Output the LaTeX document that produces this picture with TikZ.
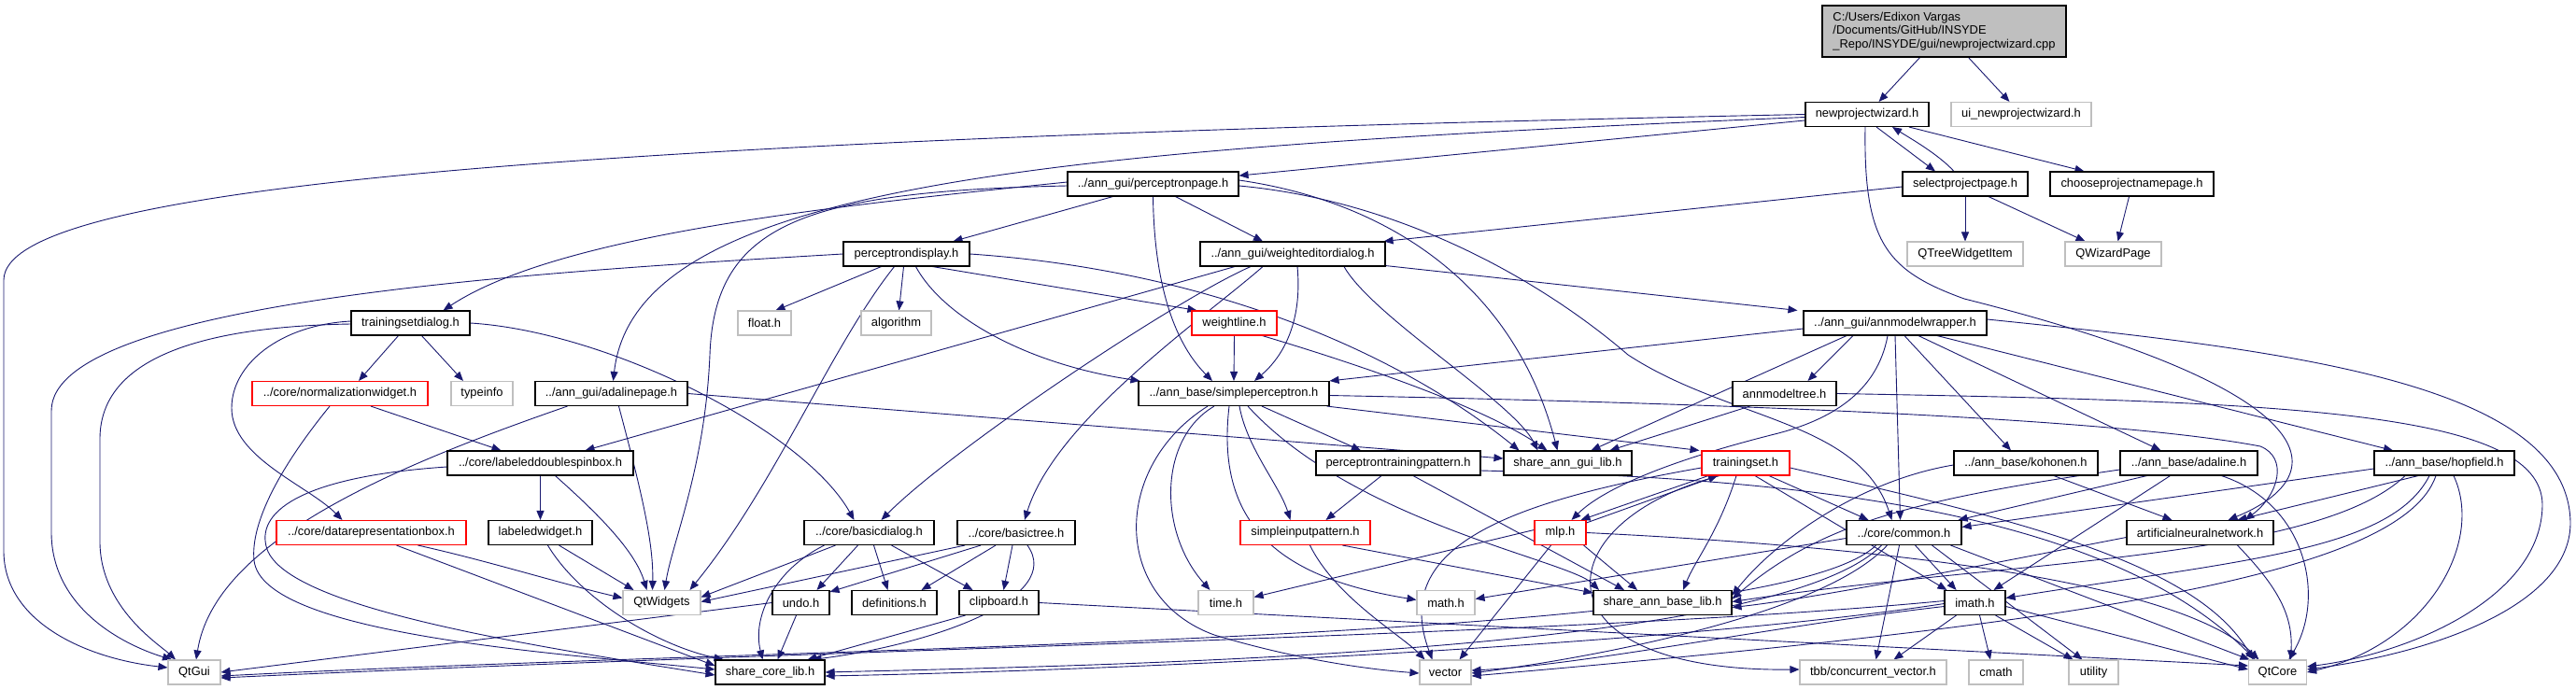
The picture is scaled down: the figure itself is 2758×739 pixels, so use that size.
\documentclass[tikz,border=0pt]{standalone}
\usepackage{fontspec}
\setmainfont{Liberation Sans}
\usetikzlibrary{arrows.meta,backgrounds}
\definecolor{edgec}{HTML}{191970}
\definecolor{graybd}{HTML}{BFBFBF}
\definecolor{redbd}{HTML}{FF0000}
\definecolor{topfill}{HTML}{BFBFBF}
\newcommand{\dxf}{\fontsize{12.9}{14.7}\selectfont}
\tikzset{
  nb/.style={draw=black, line width=1.1pt, fill=white, minimum height=26pt, inner sep=0pt, font=\dxf, text=black},
  gb/.style={nb, draw=graybd},
  rb/.style={nb, draw=redbd},
  e/.style={draw=edgec, line width=0.9pt, -{Triangle[length=10pt,width=8pt]}}
}
\begin{document}
\begin{tikzpicture}[x=1pt,y=-1pt]
\useasboundingbox (0,0) rectangle (2758,739);
% row 0
\node[nb, fill=topfill, minimum width=261pt, minimum height=55pt, align=left] (top) at (2081.5,33.5) {C:/Users/Edixon Vargas\\/Documents/GitHub/INSYDE\\\_Repo/INSYDE/gui/newprojectwizard.cpp};
% row 1
\node[nb, minimum width=132pt] (npw) at (1999,122.5) {newprojectwizard.h};
\node[gb, minimum width=150pt] (ui) at (2164,122.5) {ui\_newprojectwizard.h};
% row 2
\node[nb, minimum width=183pt] (pp) at (1234.5,197) {../ann\_gui/perceptronpage.h};
\node[nb, minimum width=134pt] (spp) at (2104,197) {selectprojectpage.h};
\node[nb, minimum width=175pt] (cpn) at (2282.5,197) {chooseprojectnamepage.h};
% row 3
\node[nb, minimum width=135pt] (pd) at (970.5,272) {perceptrondisplay.h};
\node[nb, minimum width=198pt] (wed) at (1384,272) {../ann\_gui/weighteditordialog.h};
\node[gb, minimum width=124pt] (qtw) at (2104,272) {QTreeWidgetItem};
\node[gb, minimum width=103pt] (qwp) at (2262.5,272) {QWizardPage};
% row 4
\node[nb, minimum width=127pt] (tsd) at (439.5,346) {trainingsetdialog.h};
\node[gb, minimum width=57pt] (fl) at (818.5,346) {float.h};
\node[gb, minimum width=75pt] (alg) at (959.5,346) {algorithm};
\node[rb, minimum width=91pt] (wl) at (1321.5,346) {weightline.h};
\node[nb, minimum width=196pt] (amw) at (2029,346) {../ann\_gui/annmodelwrapper.h};
% row 5
\node[rb, minimum width=188pt] (nw) at (364,421.5) {../core/normalizationwidget.h};
\node[gb, minimum width=66pt] (ti) at (516,421.5) {typeinfo};
\node[nb, minimum width=163pt] (ap) at (654.5,421.5) {../ann\_gui/adalinepage.h};
\node[nb, minimum width=204pt] (sp) at (1321,421.5) {../ann\_base/simpleperceptron.h};
\node[nb, minimum width=111pt] (amt) at (1910.5,421.5) {annmodeltree.h};
% row 6
\node[nb, minimum width=199pt] (ldsb) at (578.5,496) {../core/labeleddoublespinbox.h};
\node[nb, minimum width=176pt] (ptp) at (1497,496) {perceptrontrainingpattern.h};
\node[nb, minimum width=137pt] (sagl) at (1678.5,496) {share\_ann\_gui\_lib.h};
\node[rb, minimum width=94pt] (ts) at (1869,496) {trainingset.h};
\node[nb, minimum width=154pt] (koh) at (2169,496) {../ann\_base/kohonen.h};
\node[nb, minimum width=147pt] (ada) at (2343.5,496) {../ann\_base/adaline.h};
\node[nb, minimum width=150pt] (hop) at (2617,496) {../ann\_base/hopfield.h};
% row 7
\node[rb, minimum width=203pt] (drb) at (397.5,570.5) {../core/datarepresentationbox.h};
\node[nb, minimum width=111pt] (lw) at (578.5,570.5) {labeledwidget.h};
\node[nb, minimum width=139pt] (bd) at (930.5,570.5) {../core/basicdialog.h};
\node[nb, minimum width=126pt] (bt) at (1088,570.5) {../core/basictree.h};
\node[rb, minimum width=139pt] (sip) at (1397.5,570.5) {simpleinputpattern.h};
\node[rb, minimum width=55pt] (mlp) at (1670.5,570.5) {mlp.h};
\node[nb, minimum width=123pt] (com) at (2038.5,570.5) {../core/common.h};
\node[nb, minimum width=157pt] (ann) at (2355.5,570.5) {artificialneuralnetwork.h};
% row 8
\node[gb, minimum width=83pt] (qwid) at (708.5,645.5) {QtWidgets};
\node[nb, minimum width=61pt] (undo) at (857.5,645.5) {undo.h};
\node[nb, minimum width=91pt] (def) at (957.5,645.5) {definitions.h};
\node[nb, minimum width=85pt] (clip) at (1069.5,645.5) {clipboard.h};
\node[gb, minimum width=59pt] (time) at (1312.5,645.5) {time.h};
\node[gb, minimum width=62pt] (math) at (1548,645.5) {math.h};
\node[nb, minimum width=148pt] (sabl) at (1780,645.5) {share\_ann\_base\_lib.h};
\node[nb, minimum width=65pt] (imath) at (2114.5,645.5) {imath.h};
% row 9
\node[gb, minimum width=56pt] (qtgui) at (208,720) {QtGui};
\node[nb, minimum width=117pt] (scl) at (824.5,720) {share\_core\_lib.h};
\node[gb, minimum width=55pt] (vec) at (1547.5,720) {vector};
\node[gb, minimum width=157pt] (tbb) at (2005.5,720) {tbb/concurrent\_vector.h};
\node[gb, minimum width=58pt] (cmath) at (2137,720) {cmath};
\node[gb, minimum width=53pt] (util) at (2241.5,720) {utility};
\node[gb, minimum width=62pt] (qtcore) at (2438.5,720) {QtCore};

\begin{scope}[on background layer]
\fill[white] (0,0) rectangle (2758,739);
% top
\draw[e] (top) -- (npw);
\draw[e] (top) -- (ui);
% newprojectwizard
\draw[e] (npw.west) .. controls (600,150) and (4,200) .. (4,300) -- (4,590) .. controls (4,665) and (90,705) .. ([yshift=5pt]qtgui.west);
\draw[e] (npw) -- (pp);
\draw[e] ([yshift=-3pt]npw.west) .. controls (1100,160) and (680,200) .. ([xshift=2pt]ap.north);
\draw[e] ([xshift=10pt]npw.south) -- ([xshift=-32pt]spp.north);
\draw[e] ([xshift=-12pt]spp.north) .. controls (2075,165) and (2045,148) .. ([xshift=27pt]npw.south);
\draw[e] ([xshift=45pt]npw.south) -- ([xshift=-51pt]cpn.north);
\draw[e] ([xshift=-2pt]npw.south) .. controls (1995,260) and (2020,290) .. (2103,320) .. controls (2500,420) and (2500,510) .. ([xshift=30pt]ann.north);
% selectprojectpage / chooseprojectnamepage
\draw[e] ([yshift=-3pt]spp.west) -- ([xshift=-2pt]wed.north east);
\draw[e] (spp.south) -- (qtw.north);
\draw[e] ([xshift=25pt]spp.south) -- ([xshift=-30pt]qwp.north);
\draw[e] ([xshift=-3pt]cpn.south) -- ([xshift=5pt]qwp.north);
% perceptronpage
\draw[e] ([xshift=-43pt]pp.south) -- ([xshift=50pt]pd.north);
\draw[e] ([xshift=24pt]pp.south) -- ([xshift=-32pt]wed.north);
\draw[e] ([yshift=2pt]pp.west) .. controls (900,220) and (600,250) .. ([xshift=35pt]tsd.north);
\draw[e] ([yshift=-2pt]pp.west) .. controls (860,205) and (765,240) .. (760,380) .. controls (755,500) and (720,580) .. ([xshift=3pt]qwid.north);
\draw[e] (pp.south) .. controls (1236,330) and (1270,380) .. ([xshift=-23pt]sp.north);
\draw[e] ([yshift=4pt]pp.east) .. controls (1480,215) and (1620,300) .. ([xshift=-11pt]sagl.north);
\draw[e] ([yshift=-2pt]pp.east) .. controls (1500,215) and (1650,300) .. (1743,380) .. controls (1850,450) and (1990,450) .. ([xshift=-13pt]com.north);
% perceptrondisplay
\draw[e] ([xshift=-27pt]pd.south) -- ([xshift=12pt]fl.north);
\draw[e] ([xshift=-3pt]pd.south) -- ([xshift=3pt]alg.north);
\draw[e] ([xshift=28pt]pd.south) -- ([xshift=-40pt]wl.north);
\draw[e] (pd.west) .. controls (600,290) and (55,320) .. (55,440) -- (55,570) .. controls (55,650) and (130,690) .. ([xshift=-24pt]qtgui.north);
\draw[e] ([xshift=-13pt]pd.south) .. controls (890,370) and (830,520) .. ([xshift=30pt]qwid.north);
\draw[e] ([xshift=10pt]pd.south) .. controls (1010,340) and (1100,390) .. ([xshift=2pt]sp.north west);
\draw[e] (pd.east) .. controls (1300,290) and (1500,380) .. ([xshift=-52pt]sagl.north);
% weighteditordialog
\draw[e] ([xshift=-62pt]wed.south) -- ([xshift=48pt]ldsb.north);
\draw[e] ([xshift=-45pt]wed.south) .. controls (1260,320) and (1020,480) .. ([xshift=13pt]bd.north);
\draw[e] ([xshift=-32pt]wed.south) .. controls (1290,340) and (1130,450) .. ([xshift=9pt]bt.north);
\draw[e] ([xshift=5pt]wed.south) .. controls (1395,350) and (1370,385) .. ([xshift=22pt]sp.north);
\draw[e] ([yshift=1pt]wed.south east) -- ([xshift=-6pt]amw.north west);
\draw[e] ([xshift=55pt]wed.south) .. controls (1470,340) and (1620,430) .. ([xshift=-32pt]sagl.north);
% trainingsetdialog
\draw[e] ([xshift=-13pt]tsd.south) -- ([xshift=20pt]nw.north);
\draw[e] ([xshift=12pt]tsd.south) -- ([xshift=-20pt]ti.north);
\draw[e] ([yshift=2pt]tsd.west) .. controls (300,348) and (248,390) .. (248,437) .. controls (248,490) and (330,520) .. ([xshift=-31pt]drb.north);
\draw[e] ([yshift=-1pt]tsd.west) .. controls (200,350) and (107,390) .. (107,470) -- (107,580) .. controls (107,650) and (170,690) .. ([xshift=-20pt]qtgui.north);
\draw[e] (tsd.east) .. controls (650,355) and (860,460) .. ([xshift=-16pt]bd.north);
% normalizationwidget, adalinepage
\draw[e] ([xshift=33pt]nw.south) -- ([xshift=-42pt]ldsb.north);
\draw[e] ([xshift=-11pt]nw.south) .. controls (300,500) and (268,560) .. (272,600) .. controls (280,680) and (600,700) .. ([yshift=3pt]scl.west);
\draw[e] ([xshift=-47pt]ap.south) .. controls (420,500) and (230,580) .. ([xshift=2pt]qtgui.north);
\draw[e] ([xshift=8pt]ap.south) .. controls (685,520) and (700,580) .. ([xshift=-10pt]qwid.north);
\draw[e] (ap.east) -- ([yshift=5pt]sagl.west);
% labeleddoublespinbox, datarepresentationbox, labeledwidget
\draw[e] (ldsb.south) -- (lw.north);
\draw[e] ([xshift=16pt]ldsb.south) .. controls (640,550) and (680,590) .. ([xshift=-16pt]qwid.north);
\draw[e] ([yshift=-4pt]ldsb.west) .. controls (330,510) and (275,545) .. (285,585) .. controls (300,650) and (560,690) .. ([yshift=-3pt]scl.west);
\draw[e] ([xshift=50pt]drb.south) .. controls (520,600) and (600,625) .. ([yshift=5pt]qwid.west);
\draw[e] ([xshift=27pt]drb.south) -- ([yshift=7pt]scl.west);
\draw[e] ([xshift=20pt]lw.south) -- ([xshift=-30pt]qwid.north);
\draw[e] ([xshift=8pt]lw.south) .. controls (620,640) and (700,690) .. ([xshift=-50pt]scl.north);
% basicdialog, basictree
\draw[e] ([xshift=-36pt]bd.south) -- ([yshift=6pt]qwid.east);
\draw[e] ([xshift=-12pt]bd.south) -- ([xshift=17pt]undo.north);
\draw[e] ([xshift=5pt]bd.south) -- ([xshift=-7pt]def.north);
\draw[e] ([xshift=24pt]bd.south) -- ([xshift=-28pt]clip.north);
\draw[e] ([xshift=-48pt]bd.south) .. controls (830,610) and (805,660) .. ([xshift=-8pt]scl.north);
\draw[e] ([xshift=-55pt]bt.south) -- ([yshift=1pt]qwid.east);
\draw[e] ([xshift=-38pt]bt.south) -- ([yshift=-2pt]undo.north east);
\draw[e] ([xshift=-22pt]bt.south) -- ([xshift=29pt]def.north);
\draw[e] ([xshift=-4pt]bt.south) -- ([xshift=5pt]clip.north);
\draw[e] ([xshift=12pt]bt.south) .. controls (1140,640) and (1000,690) .. ([xshift=45pt]scl.north);
% undo, clipboard
\draw[e] (undo.west) -- (qtgui.east);
\draw[e] ([xshift=-5pt]undo.south) -- ([xshift=8pt]scl.north);
\draw[e] ([xshift=-36pt]clip.south) -- ([xshift=40pt]scl.north);
\draw[e] (clip.east) -- ([yshift=7pt]qtcore.west);
% weightline
\draw[e] (wl.south) -- (sp.north);
\draw[e] ([xshift=30pt]wl.south) .. controls (1420,380) and (1580,430) .. ([xshift=-22pt]sagl.north);
% simpleperceptron
\draw[e] ([xshift=30pt]sp.south) -- ([xshift=-40pt]ptp.north);
\draw[e] ([xshift=6pt]sp.south) .. controls (1335,480) and (1370,520) .. ([xshift=-16pt]sip.north);
\draw[e] ([xshift=-21pt]sp.south) .. controls (1240,470) and (1240,570) .. ([xshift=-17pt]time.north);
\draw[e] ([xshift=-5pt]sp.south) .. controls (1300,570) and (1380,620) .. ([yshift=3pt]math.west);
\draw[e] ([xshift=-28pt]sp.south) .. controls (1190,500) and (1190,640) .. (1300,680) .. controls (1400,710) and (1480,718) .. ([yshift=-1pt]vec.west);
\draw[e] ([xshift=15pt]sp.south) .. controls (1450,560) and (1680,600) .. ([xshift=-68pt]sabl.north);
\draw[e] ([xshift=-3pt]sp.south east) -- ([xshift=-2pt]ts.north west);
\draw[e] ([yshift=-2pt]sp.east) .. controls (2000,435) and (2300,455) .. (2420,478) .. controls (2450,490) and (2440,530) .. ([xshift=48pt]ann.north);
% annmodelwrapper, annmodeltree
\draw[e] ([yshift=-6pt]amw.west) -- (sp.north east);
\draw[e] ([xshift=-45pt]amw.south) -- ([xshift=25pt]amt.north);
\draw[e] ([xshift=-52pt]amw.south) -- ([xshift=25pt]sagl.north);
\draw[e] ([xshift=-8pt]amw.south) .. controls (2010,420) and (1960,450) .. (1900,465) .. controls (1800,490) and (1720,520) .. ([xshift=12pt]mlp.north);
\draw[e] (amw.south) -- ([xshift=-4pt]com.north);
\draw[e] ([xshift=10pt]amw.south) -- ([xshift=-16pt]koh.north);
\draw[e] ([xshift=25pt]amw.south) -- ([xshift=-30pt]ada.north);
\draw[e] ([xshift=45pt]amw.south) -- ([xshift=-55pt]hop.north);
\draw[e] ([yshift=4pt]amw.east) .. controls (2450,375) and (2750,410) .. (2752,560) .. controls (2752,650) and (2600,700) .. ([yshift=3pt]qtcore.east);
\draw[e] ([xshift=-37pt]amt.south) -- ([xshift=45pt]sagl.north);
\draw[e] (amt.east) .. controls (2450,430) and (2720,440) .. (2722,540) .. controls (2722,640) and (2580,700) .. ([yshift=6pt]qtcore.east);
% perceptrontrainingpattern, simpleinputpattern
\draw[e] ([xshift=-18pt]ptp.south) -- ([xshift=22pt]sip.north);
\draw[e] ([xshift=16pt]ptp.south) -- ([xshift=-41pt]sabl.north);
\draw[e] ([yshift=-8pt]ptp.east) .. controls (1900,512) and (2250,540) .. ([xshift=-24pt]qtcore.north);
\draw[e] ([xshift=40pt]sip.south) -- ([yshift=-3pt]sabl.north west);
\draw[e] ([xshift=5pt]sip.south) .. controls (1430,640) and (1500,680) .. ([xshift=-22pt]vec.north);
% trainingset, mlp
\draw[e] ([xshift=-40pt]ts.south) -- ([xshift=22pt]mlp.north);
\draw[e] ([yshift=-3pt]mlp.north east) -- ([xshift=-30pt]ts.south);
\draw[e] ([xshift=-10pt]ts.south) .. controls (1840,570) and (1815,600) .. ([xshift=22pt]sabl.north);
\draw[e] ([yshift=-5pt]ts.west) .. controls (1600,540) and (1490,590) .. ([xshift=-14pt]vec.north);
\draw[e] ([xshift=-28pt]ts.south) .. controls (1650,560) and (1640,720) .. ([yshift=3pt]tbb.west);
\draw[e] ([xshift=25pt]ts.south) -- ([xshift=-38pt]com.north);
\draw[e] ([xshift=10pt]ts.south) -- ([xshift=3pt]imath.north west);
\draw[e] ([yshift=-5pt]ts.east) .. controls (2150,555) and (2350,600) .. ([xshift=-26pt]qtcore.north);
\draw[e] ([xshift=-3pt]mlp.south east) -- ([xshift=-27pt]sabl.north);
\draw[e] ([xshift=-10pt]mlp.south) -- ([xshift=15pt]vec.north);
\draw[e] ([yshift=3pt]mlp.west) -- ([yshift=6pt]time.east);
\draw[e] (mlp.east) .. controls (2000,585) and (2330,620) .. ([xshift=-20pt]qtcore.north);
% kohonen, adaline, hopfield
\draw[e] ([yshift=-2pt]koh.west) .. controls (1990,515) and (1900,580) .. ([yshift=8pt]sabl.east);
\draw[e] ([xshift=30pt]koh.south) -- ([xshift=-30pt]ann.north);
\draw[e] ([xshift=-45pt]ada.south) -- ([xshift=-4pt]com.north east);
\draw[e] ([yshift=-7pt]ada.west) .. controls (2050,535) and (1950,560) .. ([yshift=4pt]sabl.east);
\draw[e] ([xshift=-20pt]ada.south) -- ([xshift=20pt]imath.north);
\draw[e] ([xshift=35pt]ada.south) .. controls (2470,540) and (2490,640) .. ([xshift=12pt]qtcore.north);
\draw[e] ([yshift=-6pt]hop.west) -- ([yshift=6pt]com.east);
\draw[e] ([xshift=-28pt]hop.south) -- ([xshift=40pt]ann.north);
\draw[e] ([xshift=-42pt]hop.south) .. controls (2480,600) and (2150,600) .. ([yshift=1pt]sabl.east);
\draw[e] ([xshift=-16pt]hop.south) .. controls (2560,590) and (2400,600) .. ([yshift=5pt]imath.east);
\draw[e] ([xshift=-9pt]hop.south) .. controls (2570,620) and (2200,670) .. ([yshift=-4pt]vec.east);
\draw[e] ([xshift=10pt]hop.south) .. controls (2660,580) and (2600,690) .. (qtcore.east);
% common
\draw[e] ([yshift=-6pt]com.west) -- ([yshift=4pt]math.east);
\draw[e] ([xshift=-30pt]com.south) .. controls (1900,690) and (900,690) .. ([yshift=-4pt]qtgui.east);
\draw[e] ([xshift=-24pt]com.south) .. controls (1900,700) and (1200,712) .. (scl.east);
\draw[e] ([xshift=-18pt]com.south) .. controls (1950,660) and (1700,705) .. ([yshift=-1pt]vec.east);
\draw[e] ([xshift=-5pt]com.south) -- ([xshift=3pt]tbb.north);
\draw[e] ([xshift=12pt]com.south) -- ([xshift=-20pt]imath.north);
\draw[e] ([xshift=30pt]com.south) -- ([xshift=-12pt]util.north);
\draw[e] ([xshift=50pt]com.south) -- ([xshift=-30pt]qtcore.north);
% imath
\draw[e] ([yshift=-4pt]imath.west) .. controls (1900,670) and (1700,712) .. ([yshift=2pt]vec.east);
\draw[e] ([yshift=2pt]imath.west) .. controls (1700,680) and (900,695) .. ([yshift=-6pt]qtgui.east);
\draw[e] ([yshift=-1pt]imath.west) .. controls (1800,690) and (1200,718) .. ([yshift=-4pt]scl.east);
\draw[e] ([xshift=-20pt]imath.south) -- ([xshift=22pt]tbb.north);
\draw[e] ([xshift=5pt]imath.south) -- ([xshift=-6pt]cmath.north);
\draw[e] ([xshift=22pt]imath.south) -- ([xshift=-22pt]util.north);
\draw[e] ([yshift=-4pt]imath.east) -- ([yshift=3pt]qtcore.west);
% artificialneuralnetwork
\draw[e] ([yshift=-5pt]ann.west) .. controls (2150,600) and (1950,640) .. ([yshift=-5pt]sabl.east);
\draw[e] ([xshift=40pt]ann.south) .. controls (2440,630) and (2455,660) .. ([xshift=14pt]qtcore.north);
\end{scope}
\end{tikzpicture}
\end{document}
